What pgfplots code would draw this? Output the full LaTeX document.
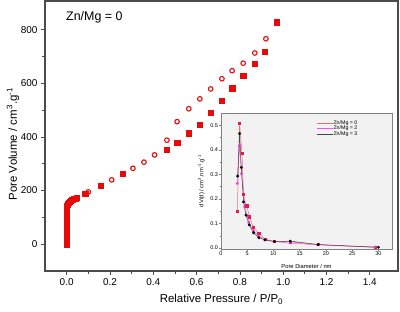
\documentclass[border=0pt]{standalone}
\usepackage{pgfplots}
\pgfplotsset{compat=1.18}
\usepackage{fontspec}
\setmainfont{Liberation Sans}
\definecolor{mred}{RGB}{230,10,10}
\definecolor{framec}{RGB}{75,75,75}
\definecolor{l0}{RGB}{240,110,110}
\definecolor{m0}{RGB}{225,30,60}
\definecolor{l2}{RGB}{250,80,250}
\definecolor{m2}{RGB}{210,60,210}
\definecolor{l3}{RGB}{70,70,70}
\definecolor{insetbg}{RGB}{242,242,242}
\begin{document}
\begin{tikzpicture}
\path[use as bounding box] (0,0) rectangle (400bp,312bp);
\begin{axis}[
  at={(45bp,41bp)}, anchor=south west,
  width=353bp, height=270bp, scale only axis,
  xmin=-0.1, xmax=1.53, ymin=-100, ymax=907,
  xtick={0,0.2,...,1.4}, ytick={0,200,...,800},
  minor x tick num=1, minor y tick num=1,
  tick pos=left, tick align=outside,
  major tick length=4bp, minor tick length=2.5bp,
  axis line style={framec, line width=1.2bp},
  every tick/.style={framec, line width=0.8bp},
  x tick label style={/pgf/number format/.cd, fixed, fixed zerofill, precision=1},
  /pgf/number format/assume math mode=true,
  tick label style={font=\fontsize{10}{12}\selectfont},
  xlabel={Relative Pressure / P/P\textsubscript{0}},
  ylabel={Pore Volume / cm\textsuperscript{3}.g\textsuperscript{-1}},
  label style={font=\fontsize{11.5}{13}\selectfont},
  xlabel style={at={(axis description cs:0.5,-0.104)}, anchor=center},
  ylabel style={at={(axis description cs:-0.0906,0.47)}, anchor=center},
  clip=false,
]
\addplot[only marks, mark=square*, mark size=2.6bp, color=mred] coordinates {
(0,0)(0,6)(0,12)(0,18)(0,24)(0,30)(0,36)(0,42)(0,48)(0,54)(0,60)(0,66)(0,72)(0,78)(0,84)(0,90)(0,96)
(0.0001,102)(0.0002,108)(0.0003,114)(0.0005,120)(0.0007,126)(0.001,132)(0.0015,138)(0.002,143)
(0.004,148)(0.006,152)(0.009,156)(0.013,159)(0.018,162)(0.023,165)(0.028,167)(0.034,169)(0.04,171)(0.048,172)
(0.086,189)(0.157,219)(0.259,262)(0.463,352)(0.51,379)(0.564,414)(0.615,445)(0.665,489)(0.717,535)
(0.764,582)(0.815,628)(0.869,672)(0.915,719)(0.969,828)
};
\addplot[only marks, mark=o, mark size=2.3bp, color=mred, mark options={line width=1.1bp}] coordinates {
(0.1,195)(0.208,240)(0.306,283)(0.357,306)(0.406,333)(0.463,388)(0.51,457)(0.564,505)(0.615,542)
(0.665,579)(0.717,617)(0.764,647)(0.815,675)(0.869,713)(0.92,766)
};
\node[anchor=west, font=\fontsize{12.5}{14}\selectfont, inner sep=0pt] at (axis cs:-0.003,848) {Zn/Mg = 0};
\end{axis}
\begin{axis}[
  at={(221bp,63bp)}, anchor=south west,
  width=171bp, height=136bp, scale only axis,
  xmin=0, xmax=32.6, ymin=-0.004, ymax=0.55,
  xtick={0,5,...,30}, ytick={0,0.1,...,0.5},
  tick pos=left, tick align=outside,
  major tick length=1.8bp, minor tick length=1bp,
  minor x tick num=1, minor y tick num=1,
  axis background/.style={fill=insetbg},
  axis line style={gray, line width=0.5bp},
  every tick/.style={gray, line width=0.4bp},
  y tick label style={/pgf/number format/.cd, fixed, fixed zerofill, precision=1},
  /pgf/number format/assume math mode=true,
  tick label style={font=\fontsize{5.5}{6}\selectfont, inner sep=1bp},
  xlabel={Pore Diameter / nm},
  ylabel={dV(d) / cm\textsuperscript{3}.nm\textsuperscript{-1}.g\textsuperscript{-1}},
  label style={font=\fontsize{5.8}{7}\selectfont},
  xlabel style={at={(axis description cs:0.5,-0.13)}, anchor=center},
  ylabel style={at={(axis description cs:-0.115,0.5)}, anchor=center},
  legend style={at={(0.82,0.965)}, anchor=north east, draw=none, fill=none,
    font=\fontsize{5.3}{5.5}\selectfont, row sep=-1.2bp,
    nodes={inner sep=0.6bp}},
  legend cell align=left,
  legend image code/.code={\draw[#1] (0bp,0bp) -- (16bp,0bp);},
]
\addplot[forget plot, color=l0, line width=0.5bp, mark=square*, mark size=1.1bp, mark options={fill=m0, draw=m0}] coordinates {
(3.1,0.15)(3.54,0.507)(4.0,0.385)(4.3,0.218)(4.76,0.172)(4.95,0.172)(5.4,0.127)(6.2,0.083)(7.2,0.06)
(8.4,0.036)(10.2,0.027)(13.2,0.025)(18.5,0.014)(29.4,0.003)
};
\addplot[forget plot, color=l2, line width=0.5bp, mark=triangle*, mark size=1.4bp, mark options={fill=m2, draw=m2}] coordinates {
(3.1,0.263)(3.54,0.419)(3.9,0.304)(4.5,0.169)(5.0,0.13)(5.3,0.105)(6.2,0.07)(7.2,0.048)(8.4,0.034)
(10.2,0.026)(13.2,0.02)(18.5,0.013)(29.4,0.003)
};
\addplot[forget plot, color=l3, line width=0.5bp, mark=*, mark size=1.2bp, mark options={fill=black, draw=black}] coordinates {
(3.17,0.293)(3.54,0.466)(3.87,0.328)(4.3,0.188)(4.76,0.134)(5.4,0.094)(6.2,0.062)(7.2,0.042)(8.4,0.033)
(10.2,0.026)(13.2,0.028)(18.5,0.014)(30.0,0.003)
};
\addlegendimage{color=l0, line width=0.6bp}
\addlegendentry{Zn/Mg = 0}
\addlegendimage{color=l2, line width=0.6bp}
\addlegendentry{Zn/Mg = 2}
\addlegendimage{color=l3, line width=0.6bp}
\addlegendentry{Zn/Mg = 3}
\end{axis}
\end{tikzpicture}
\end{document}
